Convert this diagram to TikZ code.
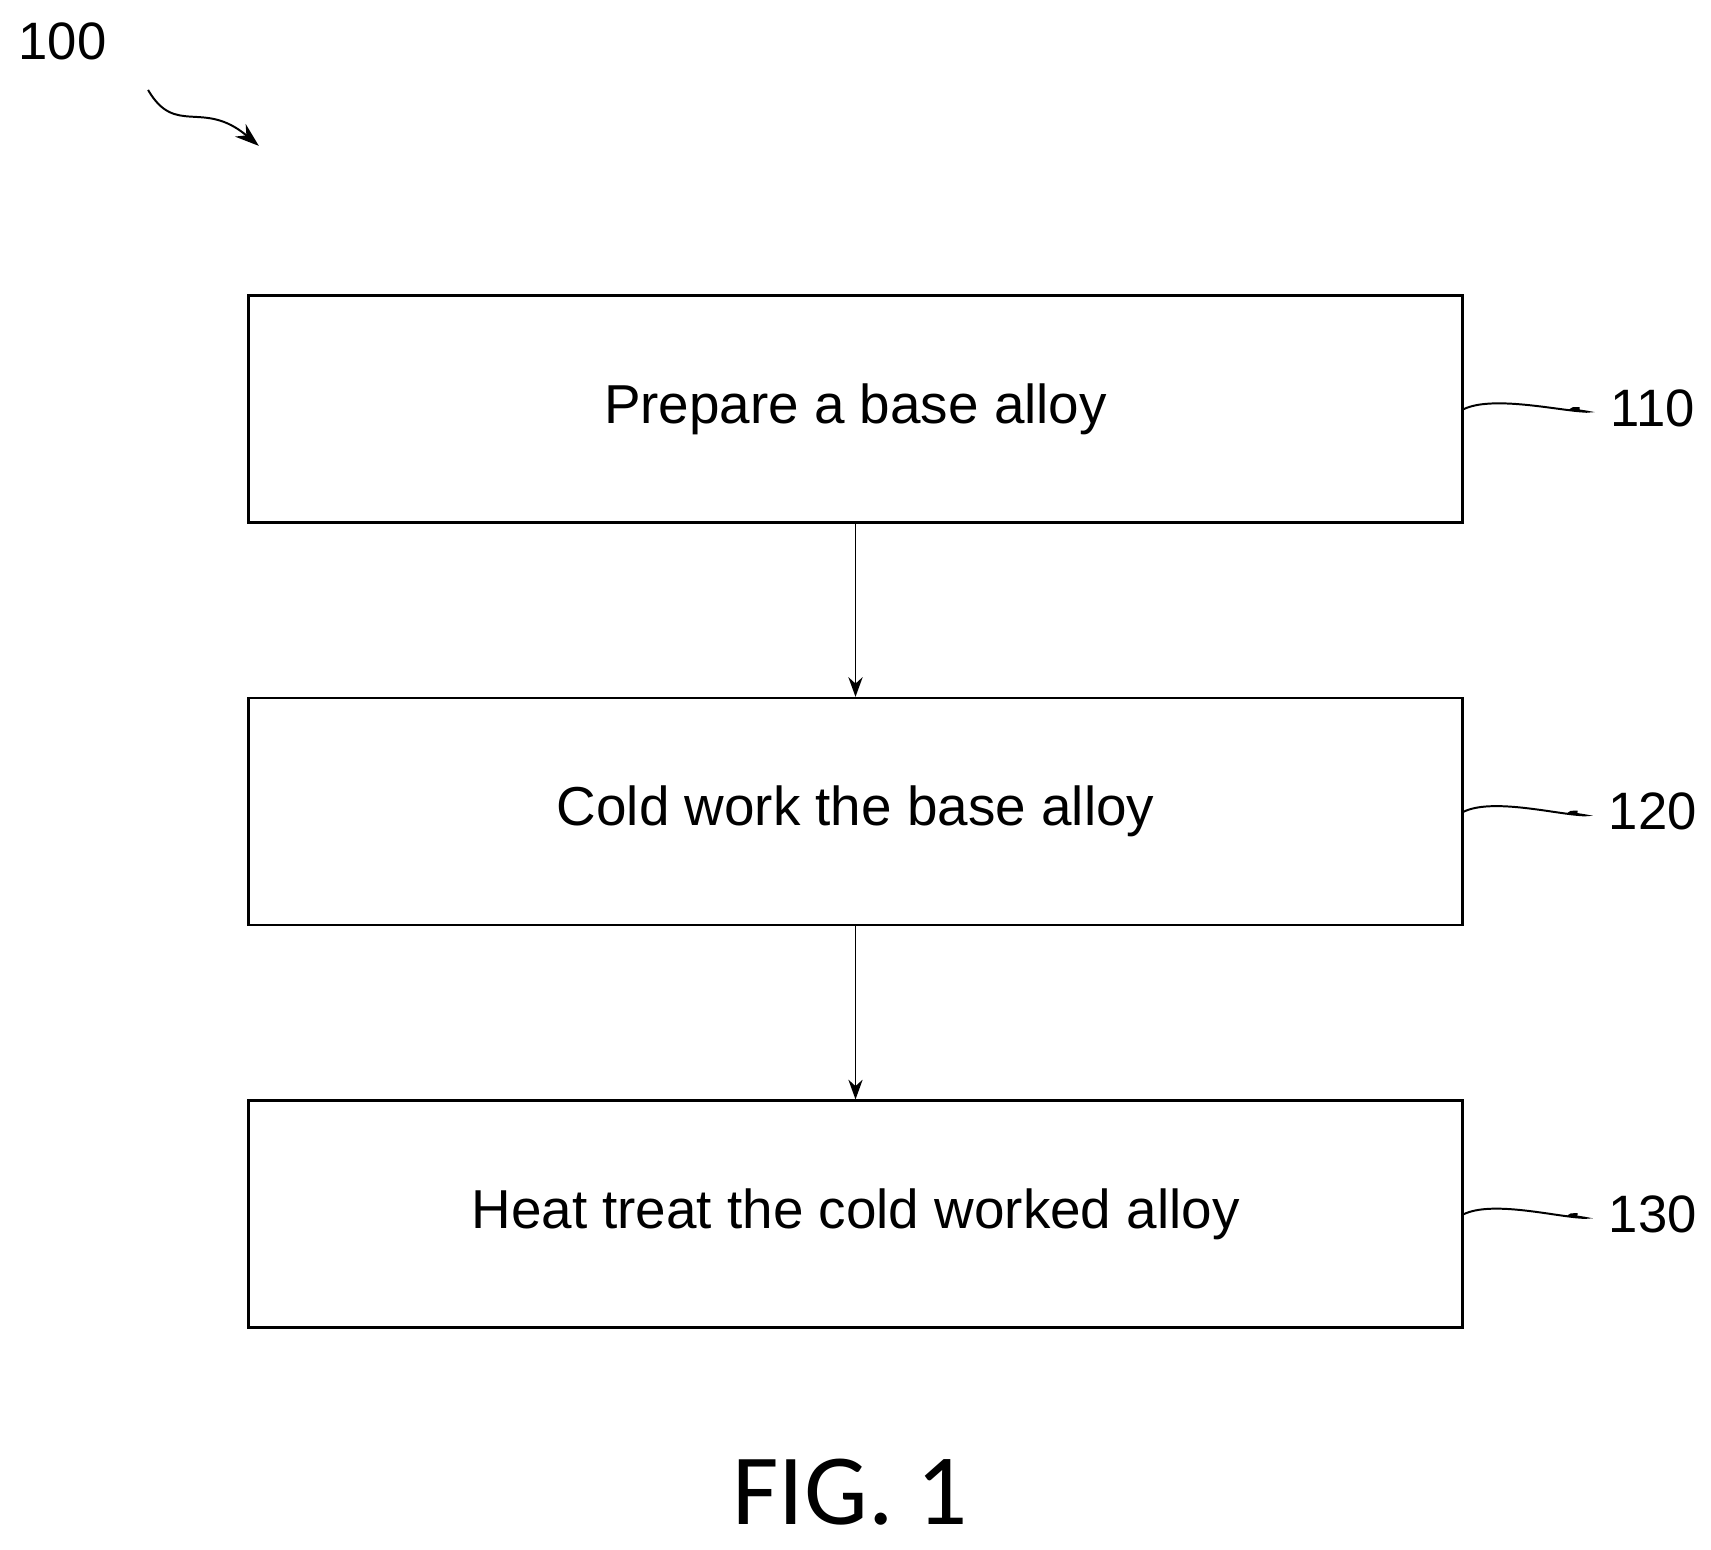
\documentclass[tikz,border=0pt]{standalone}
\usepackage{fontspec}
\usetikzlibrary{arrows.meta}
\setmainfont{Liberation Sans}
\newfontfamily\figfont{Carlito}
\begin{document}
\begin{tikzpicture}[x=1pt,y=-1pt,
  box/.style={draw,line width=2.2pt,minimum width=1107pt,minimum height=207pt,inner sep=0pt,font=\fontsize{50}{54}\selectfont},
  lab/.style={font=\fontsize{48}{52}\selectfont},
  wig/.style={line width=1.8pt},
  arr/.style={line width=1.6pt,-{Stealth[length=18pt,width=13pt]}}]
\useasboundingbox (0,0) rectangle (1560,1413);
\node[box] (b1) at (780,373) {Prepare a base alloy};
\node[box] (b2) at (780,740) {Cold work the base alloy};
\node[box] (b3) at (780,1107) {Heat treat the cold worked alloy};
\node[lab] (l1) at (1507,372) {110};
\node[lab] (l2) at (1507,740) {120};
\node[lab] (l3) at (1507,1107) {130};
\foreach \b/\l in {b1/l1,b2/l2,b3/l3}{
  \draw[wig] (\b.east) .. controls +(25,-12) and +(-25,-2) .. ([xshift=-25pt,yshift=-3pt]\l.west)
    .. controls +(25,2) and +(-25,0) .. ([xshift=-25pt]\l.west) coordinate (m\l);
  \draw[wig] ([xshift=-25pt,yshift=-3pt]\l.west) ++(0,0);
}
\draw[arr] (b1) -- (b2);
\draw[arr] (b2) -- (b3);
\node[lab] (n100) at (57,38) {100};
\coordinate (c0) at (135,82);
\coordinate (c1) at (236,133);
\draw[line width=1.8pt,-{Stealth[length=22pt,width=15pt]}] (c0) .. controls (160,125) and (185,90) .. (c1);
\node[font=\figfont\fontsize{92}{96}\selectfont] (fig) at (775,1360) {FIG. 1};
\end{tikzpicture}
\end{document}
